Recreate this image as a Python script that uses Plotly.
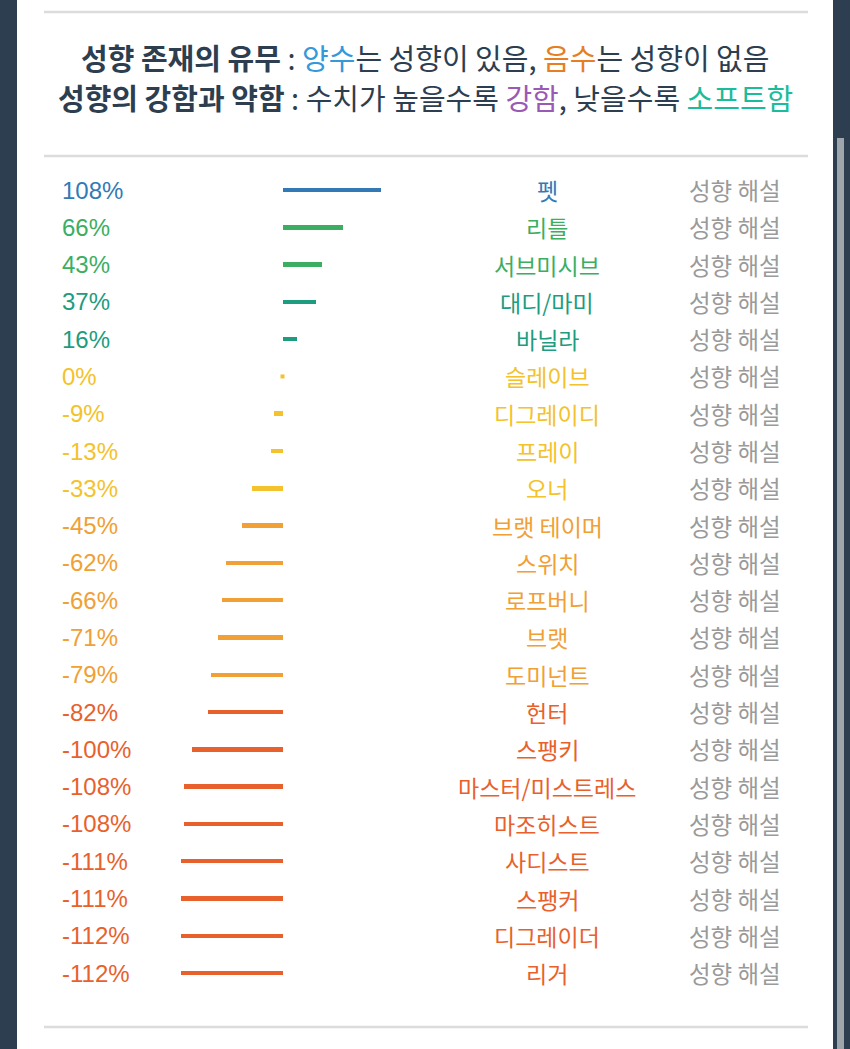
import plotly.graph_objects as go

# ---------------- data ----------------
names = ["펫", "리틀", "서브미시브", "대디/마미", "바닐라", "슬레이브", "디그레이디", "프레이",
         "오너", "브랫 테이머", "스위치", "로프버니", "브랫", "도미넌트", "헌터", "스팽키",
         "마스터/미스트레스", "마조히스트", "사디스트", "스팽커", "디그레이더", "리거"]
values = [108, 66, 43, 37, 16, 0, -9, -13, -33, -45, -62, -66, -71, -79, -82, -100,
          -108, -108, -111, -111, -112, -112]
groups = ["blue", "green", "green", "teal", "teal", "yellow", "yellow", "yellow", "yellow",
          "amber", "amber", "amber", "amber", "amber", "red", "red", "red", "red", "red",
          "red", "red", "red"]
link_text = "성향 해설"
title_line1 = ("<b>성향 존재의 유무</b> : <span style='color:#3498db'>양수</span>는 성향이 있음, "
               "<span style='color:#e67e22'>음수</span>는 성향이 없음")
title_line2 = ("<b>성향의 강함과 약함</b> : 수치가 높을수록 <span style='color:#9b59b6'>강함</span>, "
               "낮을수록 <span style='color:#1abc9c'>소프트함</span>")

palette = {"blue": "#3279b6", "green": "#3bae62", "teal": "#1d9c7f",
           "yellow": "#f3c22c", "amber": "#f0a034", "red": "#e8612d"}
colors = [palette[g] for g in groups]

# ---------------- geometry ----------------
W, H = 850, 1049
zero_px, px_per_unit = 282.5, 0.91
row0_px, row_step = 190.0, 37.29

rows = list(range(len(names)))
x_range = [-zero_px / px_per_unit, (W - zero_px) / px_per_unit]
y_range = [(H - row0_px) / row_step, -row0_px / row_step]

def px_x(p):
    return p / W

def px_y(p):
    return 1 - p / H

fig = go.Figure()

# bars
fig.add_trace(go.Bar(
    x=values, y=rows, orientation="h", base=0,
    width=4.5 / row_step,
    marker=dict(color=colors, line=dict(width=0)),
    hoverinfo="skip", showlegend=False,
))
# tiny dot for zero values
zx = [v for v in values if v == 0]
zy = [r for r, v in zip(rows, values) if v == 0]
zc = [c for c, v in zip(colors, values) if v == 0]
fig.add_trace(go.Scatter(
    x=zx, y=zy, mode="markers",
    marker=dict(symbol="square", size=4, color=zc, line=dict(width=0)),
    hoverinfo="skip", showlegend=False,
))

annotations = []
for r, (n, v, c) in enumerate(zip(names, values, colors)):
    annotations.append(dict(
        x=px_x(60), xref="paper", y=r, yref="y", xanchor="left", yanchor="middle",
        text=f"{v}%", showarrow=False,
        font=dict(family="Liberation Sans, Arial", size=24, color=c)))
    annotations.append(dict(
        x=px_x(547), xref="paper", y=r, yref="y", xanchor="center", yanchor="middle",
        text=n, showarrow=False,
        font=dict(family="Noto Sans CJK KR", size=23, color=c)))
    annotations.append(dict(
        x=px_x(735), xref="paper", y=r, yref="y", xanchor="center", yanchor="middle",
        text=link_text, showarrow=False,
        font=dict(family="Noto Sans CJK KR", size=23.5, color="#9a9a9a")))

annotations.append(dict(
    x=px_x(425), xref="paper", y=px_y(57), yref="paper", xanchor="center", yanchor="middle",
    text=title_line1, showarrow=False,
    font=dict(family="Noto Sans CJK KR", size=29, color="#2c3e50")))
annotations.append(dict(
    x=px_x(425), xref="paper", y=px_y(97), yref="paper", xanchor="center", yanchor="middle",
    text=title_line2, showarrow=False,
    font=dict(family="Noto Sans CJK KR", size=29, color="#2c3e50")))

shapes = [
    # white panel
    dict(type="rect", xref="paper", yref="paper", x0=px_x(17), x1=px_x(833),
         y0=0, y1=1, fillcolor="white", line=dict(width=0), layer="below"),
    # scrollbar thumb
    dict(type="rect", xref="paper", yref="paper", x0=px_x(837), x1=px_x(844),
         y0=0, y1=px_y(138), fillcolor="#9ea6ab", line=dict(width=0), layer="below"),
]
for yp in (12, 156, 1027):
    shapes.append(dict(type="line", xref="paper", yref="paper",
                       x0=px_x(44), x1=px_x(808), y0=px_y(yp), y1=px_y(yp),
                       line=dict(color="#dcdcdc", width=2.5), layer="below"))

fig.update_layout(
    width=W, height=H,
    margin=dict(l=0, r=0, t=0, b=0),
    paper_bgcolor="#2c3e50",
    plot_bgcolor="rgba(0,0,0,0)",
    xaxis=dict(range=x_range, visible=False, fixedrange=True),
    yaxis=dict(range=y_range, visible=False, fixedrange=True),
    annotations=annotations,
    shapes=shapes,
    bargap=0,
)

fig.write_html("out.html", config={"displayModeBar": False})
